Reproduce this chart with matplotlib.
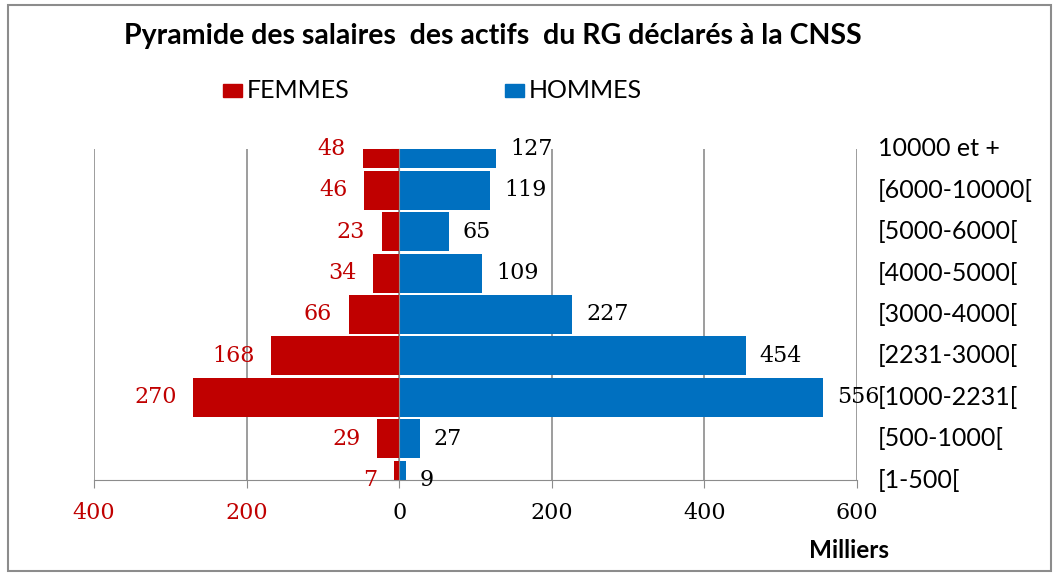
import matplotlib.pyplot as plt
from matplotlib.patches import Rectangle

# salary brackets, bottom to top
categories = ["[1-500[", "[500-1000[", "[1000-2231[", "[2231-3000[", "[3000-4000[",
              "[4000-5000[", "[5000-6000[", "[6000-10000[", "10000 et +"]
femmes = [7, 29, 270, 168, 66, 34, 23, 46, 48]
hommes = [9, 27, 556, 454, 227, 109, 65, 119, 127]
xticks = [-400, -200, 0, 200, 400, 600]
xtick_labels = ["400", "200", "0", "200", "400", "600"]

title = "Pyramide des salaires  des actifs  du RG déclarés à la CNSS"
RED = "#C00000"
BLUE = "#0070C0"
GREY = "#8C8C8C"
SANS = ["Lato", "DejaVu Sans"]
SERIF = ["DejaVu Serif"]

W, H = 1054, 576
fig = plt.figure(figsize=(W / 100, H / 100), dpi=100)


def px(x, y):
    return x / W, 1 - y / H


# chart frame
fig.add_artist(Rectangle(px(8, 571), (1043) / W, (566) / H, transform=fig.transFigure,
                         fill=False, edgecolor=GREY, lw=1.5))

l, t = px(94, 149)
r, b = px(857, 480)
ax = fig.add_axes([l, b, r - l, t - b])

y = list(range(len(categories)))
ax.barh(y, [-v for v in femmes], height=0.94, color=RED, zorder=2)
ax.barh(y, hommes, height=0.94, color=BLUE, zorder=2)

ax.set_xlim(-400, 600)
ax.set_ylim(0, 8)

for s in ["top", "right"]:
    ax.spines[s].set_visible(False)
ax.spines["left"].set_position(("data", 0))
ax.spines["left"].set_color(GREY)
ax.spines["left"].set_zorder(3)
ax.spines["bottom"].set_color(GREY)
ax.set_yticks(y)
ax.set_yticklabels([])
ax.tick_params(axis="y", direction="out", length=6, color=GREY)

ax.set_xticks(xticks)
ax.set_xticklabels(xtick_labels, fontsize=16, family=SERIF)
ax.tick_params(axis="x", direction="out", length=6, color=GREY, pad=10)
for lab, v in zip(ax.get_xticklabels(), xticks):
    lab.set_color(RED if v < 0 else "black")
ax.xaxis.grid(True, color=GREY, lw=1.2, zorder=0)
ax.set_axisbelow(True)

for yi, f, h in zip(y, femmes, hommes):
    ax.annotate(str(f), (-f, yi), xytext=(-12, 0), textcoords="offset points",
                ha="right", va="center", color=RED, fontsize=16, family=SERIF)
    ax.annotate(str(h), (h, yi), xytext=(10, 0), textcoords="offset points",
                ha="left", va="center", color="black", fontsize=16, family=SERIF)

ytr = ax.get_yaxis_transform()
for yi, c in zip(y, categories):
    ax.text(1.0275, yi, c, transform=ytr, ha="left", va="center",
            fontsize=18, family=SANS, clip_on=False)

fig.text(*px(493, 36), title, ha="center", va="center", fontsize=20.5,
         fontweight="bold", family=SANS)

# legend
for x0, color, label in [(223, RED, "FEMMES"), (505, BLUE, "HOMMES")]:
    fig.add_artist(Rectangle(px(x0, 97), 19 / W, 13 / H, transform=fig.transFigure,
                             color=color))
    fig.text(*px(x0 + 24, 90), label, ha="left", va="center", fontsize=18, family=SANS)

fig.text(*px(849, 551), "Milliers", ha="center", va="center", fontsize=17.5,
         fontweight="bold", family=SANS)

fig.savefig("out.png", dpi=100)
